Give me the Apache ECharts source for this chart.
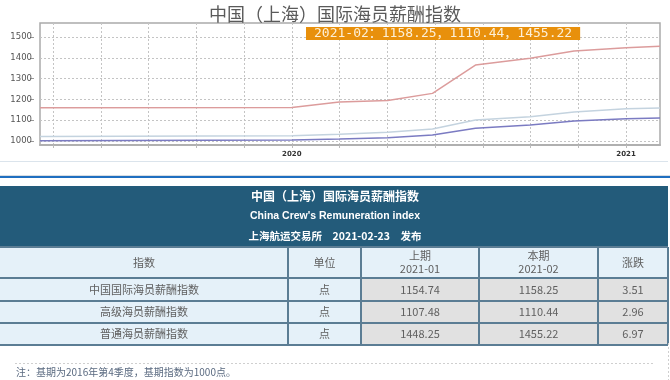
<!DOCTYPE html>
<html><head><meta charset="utf-8">
<script src="https://cdn.jsdelivr.net/npm/echarts@6/dist/echarts.min.js"></script>
<style>html,body{margin:0;padding:0;background:#fff}#c{width:670px;height:380px}</style>
</head><body><div id="c"></div>
<script>
// ---- chart data ----
const periods = ['2019-04-01','2020-01-01','2020-02-22','2020-04-15','2020-06-03','2020-07-20','2020-09-18','2020-11-05','2021-01-01','2021-02-07'];
const generalIdx   = [1160, 1161, 1187, 1195, 1229, 1365, 1398, 1432, 1448.25, 1455.22]; // 普通海员
const compositeIdx = [1022, 1026, 1033, 1042, 1058, 1101, 1117, 1140, 1154.74, 1158.25]; // 中国国际
const seniorIdx    = [1002, 1005, 1010, 1016, 1029, 1061, 1077, 1096, 1107.48, 1110.44]; // 高级海员
const yTicks = [1000, 1100, 1200, 1300, 1400, 1500];
const yearLabels = [2020, 2021];
const gridStepsPerYear = 7;
const latestLabel = '2021-02';

// ---- table data ----
const tableTitle = '中国（上海）国际海员薪酬指数';
const tableSubtitle = "China Crew's Remuneration index";
const tablePublish = '上海航运交易所　2021-02-23　发布';
const tableHead = ['指数', '单位', '上期\n2021-01', '本期\n2021-02', '涨跌'];
const rowNames = ['中国国际海员薪酬指数', '高级海员薪酬指数', '普通海员薪酬指数'];
const rowUnits = ['点', '点', '点'];
const prevVals = ['1154.74', '1107.48', '1448.25'];
const currVals = ['1158.25', '1110.44', '1455.22'];
const changes = ['3.51', '2.96', '6.97'];
const noteText = '注：基期为2016年第4季度，基期指数为1000点。';

function decYear(s) {
  const [y, m, d] = s.split('-').map(Number);
  const a = Date.UTC(y, 0, 1), b = Date.UTC(y + 1, 0, 1);
  return y + (Date.UTC(y, m - 1, d) - a) / (b - a);
}
const xs = periods.map(decYear);
const xMin = xs[0], xMax = xs[xs.length - 1];
const xTicks = [];
for (let k = -20; k <= 20; k++) {
  const v = 2020 + k / gridStepsPerYear;
  if (v > xMin && v < xMax) xTicks.push(v);
}
const pairs = arr => arr.map((v, i) => [xs[i], v]);

const CJK = '"Noto Sans CJK SC", sans-serif';

// ---- table graphics ----
const colX = [0, 288, 361, 479, 598, 668];
const rowY = [247, 278, 301, 323, 345];
const g = [];
g.push({ type: 'rect', shape: { x: 0, y: 161, width: 668, height: 1 }, style: { fill: '#dbe4ec' } });
g.push({ type: 'rect', shape: { x: 0, y: 175, width: 670, height: 1 }, style: { fill: '#d8dde2' } });
g.push({ type: 'rect', shape: { x: 0, y: 176, width: 670, height: 2 }, style: { fill: '#1f6fc0' } });
g.push({ type: 'rect', shape: { x: 0, y: 186, width: 668, height: 61 }, style: { fill: '#235b7a' } });
g.push({ type: 'text', x: 335, y: 196, style: { text: tableTitle, fill: '#fff', font: 'bold 12px ' + CJK, align: 'center', verticalAlign: 'middle' } });
g.push({ type: 'text', x: 335, y: 216, style: { text: tableSubtitle, fill: '#fff', font: 'bold 10.5px "Liberation Sans", Arial', align: 'center', verticalAlign: 'middle' } });
g.push({ type: 'text', x: 335, y: 236, style: { text: tablePublish, fill: '#fff', font: 'bold 10.5px ' + CJK, align: 'center', verticalAlign: 'middle' } });
const rows = [tableHead].concat(rowNames.map((n, i) => [n, rowUnits[i], prevVals[i], currVals[i], changes[i]]));
rows.forEach((r, ri) => {
  r.forEach((txt, ci) => {
    const x0 = colX[ci], x1 = colX[ci + 1], y0 = rowY[ri], y1 = rowY[ri + 1];
    const fill = (ri === 0 || ci < 2) ? '#e5f1f9' : '#e1e1e1';
    g.push({ type: 'rect', shape: { x: x0, y: y0, width: x1 - x0, height: y1 - y0 }, style: { fill } });
    g.push({ type: 'text', x: (x0 + x1) / 2, y: (y0 + y1) / 2, style: { text: txt, fill: '#606060', font: '11px ' + CJK, align: 'center', verticalAlign: 'middle', lineHeight: 13 } });
  });
});
rowY.forEach(y => g.push({ type: 'rect', shape: { x: 0, y: y - 1, width: 668, height: 2 }, style: { fill: '#5b7d94' } }));
colX.slice(1).forEach(x => g.push({ type: 'rect', shape: { x: x - 1, y: rowY[0], width: 2, height: rowY[rowY.length - 1] - rowY[0] }, style: { fill: '#5b7d94' } }));
g.push({ type: 'line', shape: { x1: 15, y1: 363.5, x2: 655, y2: 363.5 }, style: { stroke: '#cfcfcf', lineWidth: 1, lineDash: [2, 2] } });
g.push({ type: 'line', shape: { x1: 668.5, y1: 343, x2: 668.5, y2: 380 }, style: { stroke: '#cfcfcf', lineWidth: 1, lineDash: [2, 2] } });
g.push({ type: 'text', x: 16, y: 372, style: { text: noteText, fill: '#5a6a80', font: '10px ' + CJK, align: 'left', verticalAlign: 'middle' } });

const chart = echarts.init(document.getElementById('c'));
chart.setOption({
  animation: false,
  backgroundColor: '#fff',
  title: [
    { text: tableTitle, left: 'center', top: 0, textStyle: { fontFamily: CJK, fontSize: 18, fontWeight: 'normal', color: '#5a5a5a' } },
    { text: latestLabel + '：' + [compositeIdx, seniorIdx, generalIdx].map(a => a[a.length - 1].toFixed(2)).join('，'),
      left: 306, top: 27, backgroundColor: '#e8900c', padding: [0, 8],
      textStyle: { fontFamily: '"DejaVu Sans Mono", "Noto Sans CJK SC"', fontSize: 13, fontWeight: 'normal', color: '#fdf0d8', lineHeight: 13 } }
  ],
  grid: { left: 40, right: 10, top: 23, bottom: 235, show: true, borderColor: '#aaa', borderWidth: 1.5 },
  xAxis: {
    type: 'value', min: xMin, max: xMax,
    axisLine: { show: true, lineStyle: { color: '#b0b0b0', width: 2 } },
    axisTick: { show: true, customValues: xTicks, length: 3, lineStyle: { color: '#bbb' } },
    axisLabel: { customValues: yearLabels, formatter: v => String(Math.round(v)), fontSize: 7, fontWeight: 'bold', color: '#333', margin: 6, fontFamily: 'DejaVu Sans' },
    splitLine: { show: true, lineStyle: { color: '#c4c4c4', type: [2, 2] } }
  },
  yAxis: {
    type: 'value', min: 981, max: 1567, offset: 6,
    axisLine: { show: false },
    axisTick: { show: true, customValues: yTicks, length: 4, lineStyle: { color: '#999' } },
    axisLabel: { customValues: yTicks, formatter: v => String(v), fontSize: 8.5, color: '#555', margin: 2, fontFamily: 'DejaVu Sans' },
    splitLine: { show: true, lineStyle: { color: '#c4c4c4', type: [2, 2] } }
  },
  series: [
    { name: '普通海员薪酬指数', type: 'line', data: pairs(generalIdx), showSymbol: false, lineStyle: { color: '#dc9c9c', width: 1.5 } },
    { name: '中国国际海员薪酬指数', type: 'line', data: pairs(compositeIdx), showSymbol: false, lineStyle: { color: '#c4d3df', width: 1.5 } },
    { name: '高级海员薪酬指数', type: 'line', data: pairs(seniorIdx), showSymbol: false, lineStyle: { color: '#7b7bc2', width: 1.5 } }
  ],
  graphic: g
});
</script></body></html>
